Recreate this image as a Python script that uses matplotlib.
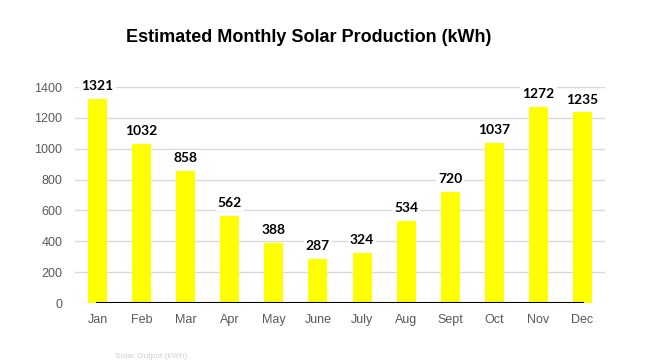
import matplotlib.pyplot as plt

# Monthly solar output values
months = ['Jan', 'Feb', 'Mar', 'Apr', 'May', 'June', 'July', 'Aug', 'Sept', 'Oct', 'Nov', 'Dec']
output_kwh = [1321, 1032, 858, 562, 388, 287, 324, 534, 720, 1037, 1272, 1235]
y_ticks = [0, 200, 400, 600, 800, 1000, 1200, 1400]

fig = plt.figure(figsize=(6.51, 3.61), dpi=100)
ax = fig.add_axes([75 / 651, 1 - 303 / 361, 530 / 651, 216 / 361])

x = list(range(len(months)))
ax.bar(x, output_kwh, width=0.43, color='#FFFF00', zorder=2)
# black baseline running from the first to the last bar
ax.plot(x, [0] * len(x), color='black', linewidth=1.5, zorder=3)

for xi, v in zip(x, output_kwh):
    ax.annotate(str(v), (xi, v), xytext=(0, 5), textcoords='offset points',
                ha='center', va='bottom', fontsize=10, fontweight='bold',
                family='Lato', color='black', zorder=4,
                bbox=dict(boxstyle='square,pad=0.15', fc='white', ec='none'),
                annotation_clip=False)

ax.set_xlim(-0.51, 11.51)
ax.set_ylim(0, 1400)
ax.set_yticks(y_ticks)
ax.set_xticks(x)
ax.set_xticklabels(months)
ax.tick_params(axis='both', length=0, labelsize=9, labelcolor='#595959', pad=8)
ax.tick_params(axis='y', pad=9)
for lbl in ax.get_xticklabels() + ax.get_yticklabels():
    lbl.set_family('Liberation Sans')

ax.grid(axis='y', color='#d9d9d9', linewidth=1, zorder=0)
ax.set_axisbelow(True)
for s in ax.spines.values():
    s.set_visible(False)

fig.text(309 / 651, 1 - 38 / 361, 'Estimated Monthly Solar Production (kWh)',
         ha='center', va='center', fontsize=13, fontweight='bold',
         family='Liberation Sans', color='black')

# faint legend text sitting at the bottom edge
fig.text(115 / 651, 1 / 361, 'Solar Output (kWh)', ha='left', va='bottom',
         fontsize=6, family='Liberation Sans', color='#d0d0d0')

fig.savefig('out.png', dpi=100)
